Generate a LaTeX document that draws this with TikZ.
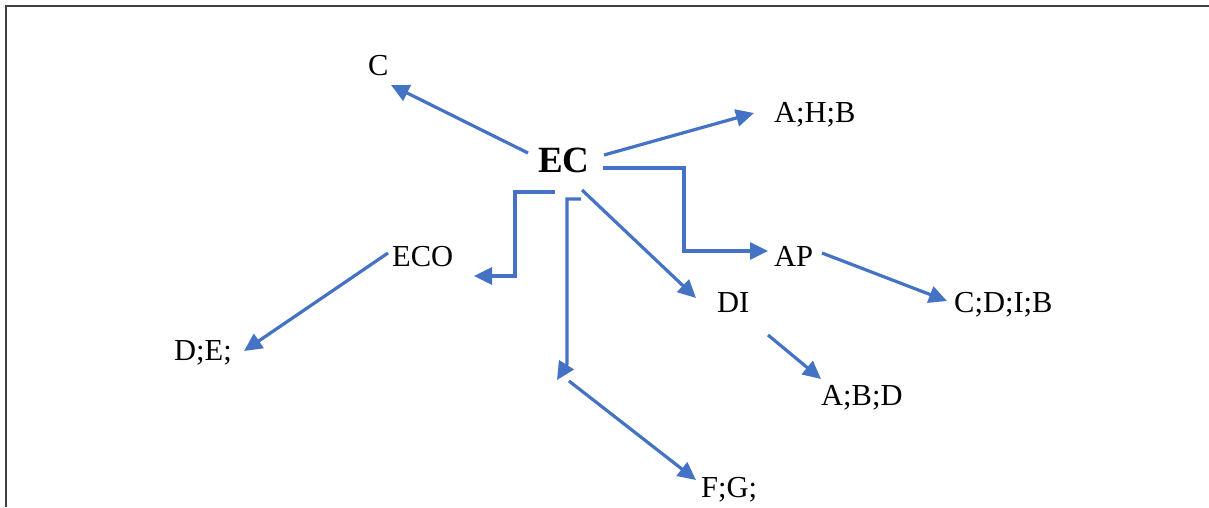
\documentclass[tikz,border=0pt]{standalone}
\usepackage{fontspec}
\setmainfont{Liberation Serif}
\usetikzlibrary{arrows.meta}
\definecolor{connblue}{HTML}{4472C4}
\definecolor{framegray}{HTML}{404040}
\tikzset{
  lbl/.style={anchor=base west, inner sep=0pt, font=\fontsize{30.5}{30.5}\selectfont},
  hub/.style={anchor=base west, inner sep=0pt, font=\fontsize{37}{37}\selectfont\bfseries},
  conn/.style={draw=connblue, line width=3.2pt, -{Triangle[length=18pt,width=17pt]}},
  framel/.style={draw=framegray, line width=2pt}
}
\begin{document}
\begin{tikzpicture}[x=1pt,y=-1pt]
\useasboundingbox (0,0) rectangle (1209,507);
% frame
\coordinate (f1) at (5.5,507);
\coordinate (f2) at (5.5,5.5);
\coordinate (f3) at (1209,5.5);
\draw[framel] (f1) -- (f2) -- (f3);
% labels
\node[hub] (EC) at (538,172) {EC};
\node[lbl] (C) at (368,75) {C};
\node[lbl] (AHB) at (774,122) {A;H;B};
\node[lbl] (AP) at (774,266) {AP};
\node[lbl] (CDIB) at (954,312) {C;D;I;B};
\node[lbl] (DI) at (717,312) {DI};
\node[lbl] (ABD) at (821,405) {A;B;D};
\node[lbl] (ECO) at (392,266) {ECO};
\node[lbl] (DE) at (174,360) {D;E;};
\node[lbl] (FG) at (701,497) {F;G;};
% connector end points
\coordinate (ec1) at (528,153);
\coordinate (c1) at (391,85);
\coordinate (ec2) at (604,155);
\coordinate (ahb1) at (754,113);
\coordinate (ec3) at (603,168);
\coordinate (ap1) at (768,251);
\coordinate (ec4) at (582,190);
\coordinate (di1) at (696,298);
\coordinate (ec5) at (555,192);
\coordinate (e5) at (474,276);
\coordinate (ec6) at (581,199);
\coordinate (v6) at (567,364);
\coordinate (e6) at (557,380);
\coordinate (eco1) at (388,253);
\coordinate (de1) at (244,351);
\coordinate (ap2) at (822,253);
\coordinate (cdib1) at (947,301);
\coordinate (di2) at (768,335);
\coordinate (abd1) at (821,379);
\coordinate (s10) at (569,381);
\coordinate (fg1) at (696,480);
% connectors
\draw[conn] (ec1) -- (c1);
\draw[conn] (ec2) -- (ahb1);
\draw[conn] (ec3) -- (684,168) -- (684,251) -- (ap1);
\draw[conn] (ec4) -- (di1);
\draw[conn] (ec5) -- (515,192) -- (515,276) -- (e5);
\draw[conn] (ec6) -- (567,199) -- (v6) -- (e6);
\draw[conn] (eco1) -- (de1);
\draw[conn] (ap2) -- (cdib1);
\draw[conn] (di2) -- (abd1);
\draw[conn] (s10) -- (fg1);
\end{tikzpicture}
\end{document}
